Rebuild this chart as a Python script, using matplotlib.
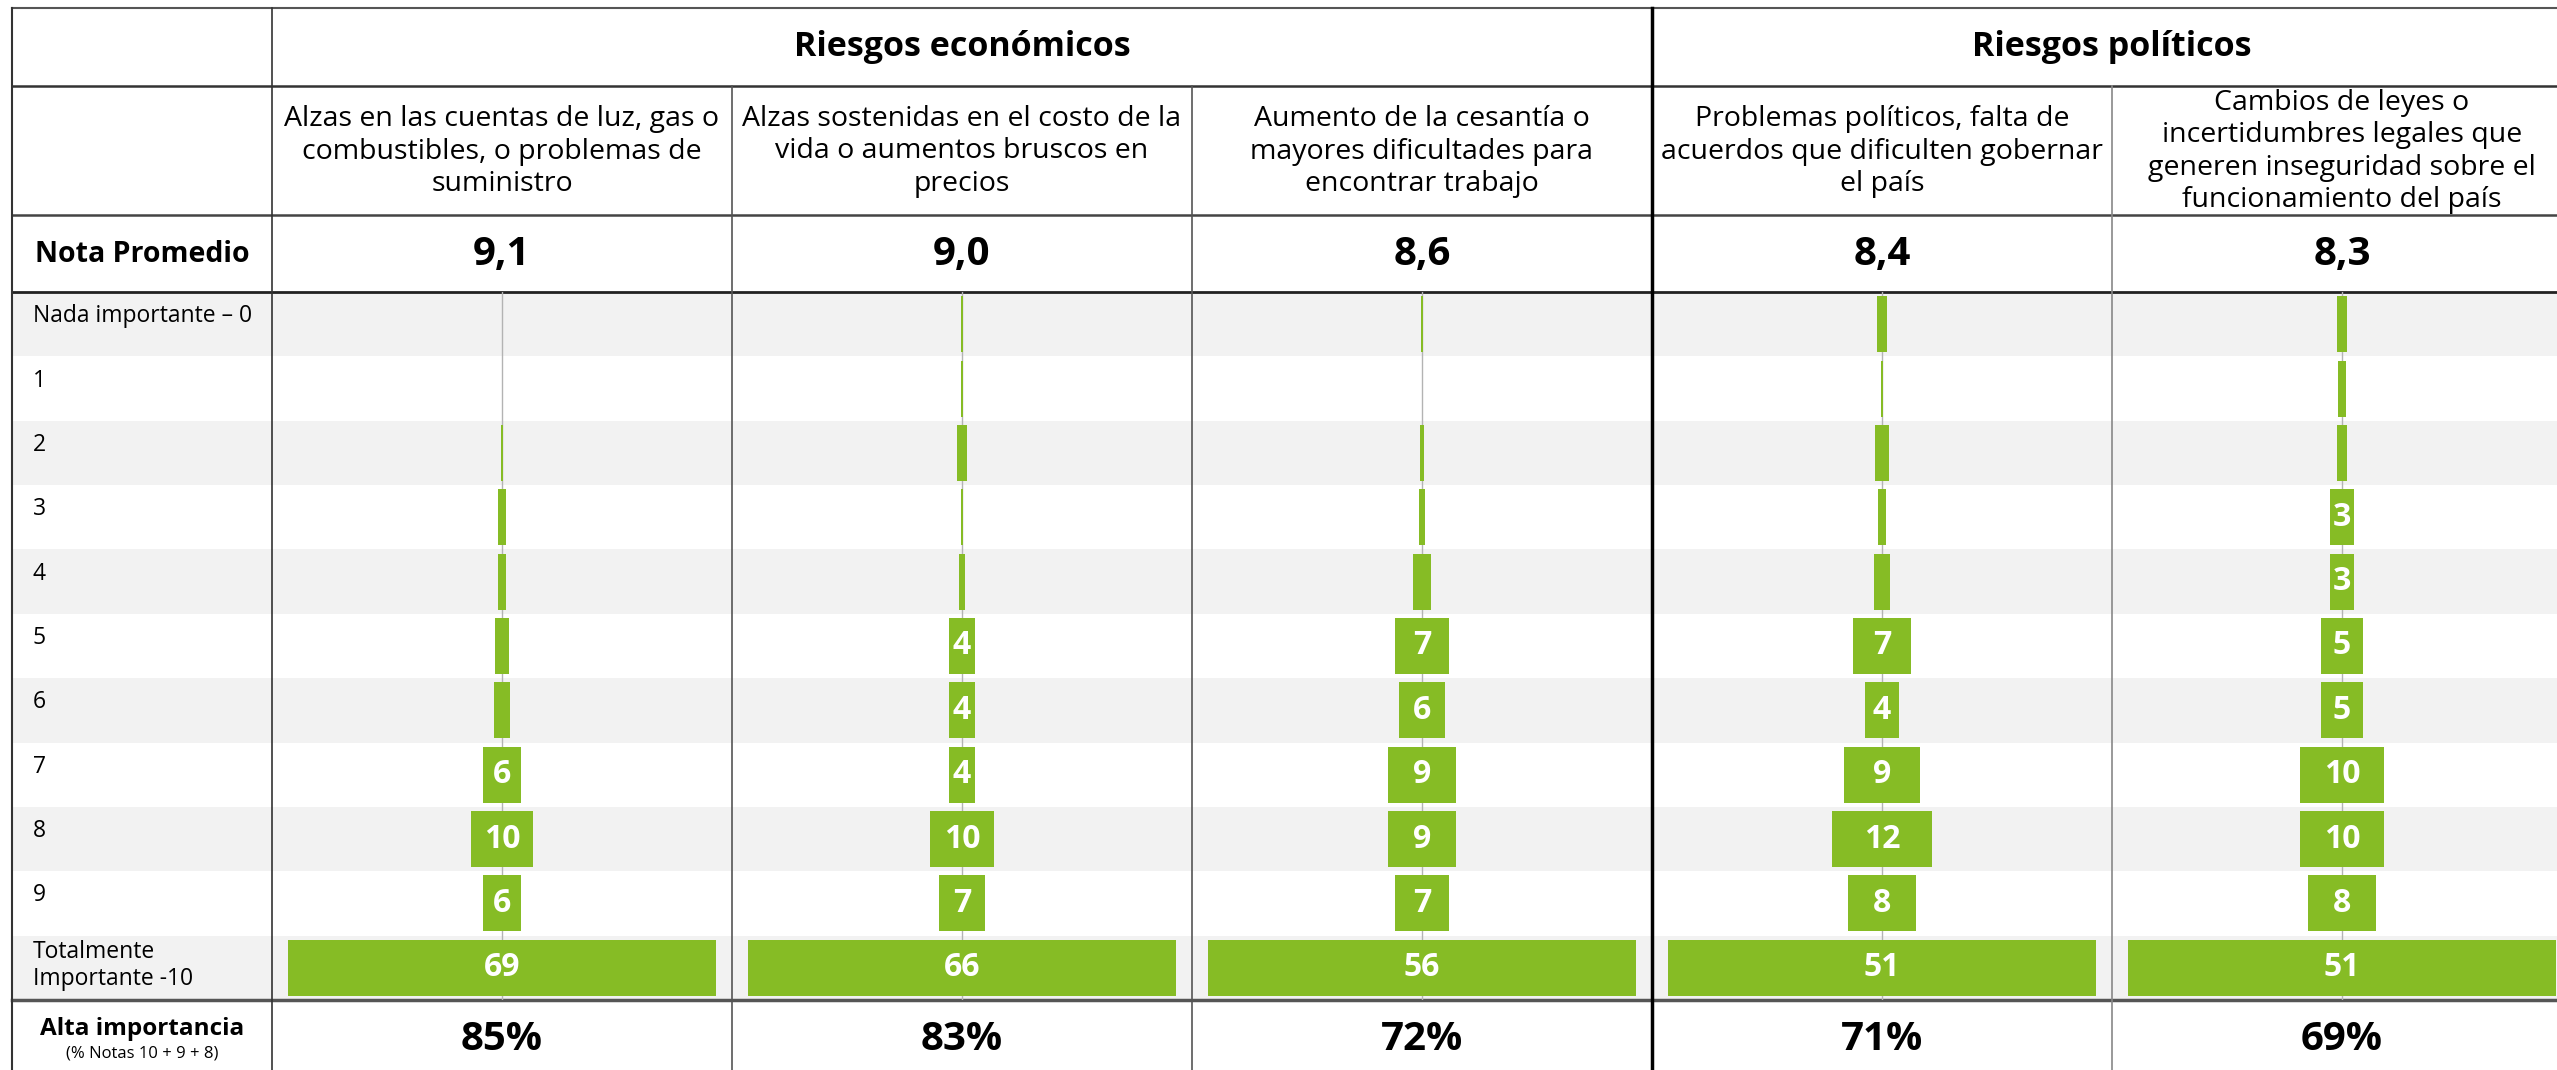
import matplotlib
matplotlib.use("Agg")
import matplotlib.pyplot as plt
from matplotlib.patches import Rectangle
import numpy as np

# ---------------- data ----------------
group_titles = ["Riesgos económicos", "Riesgos políticos"]
group_sizes = [3, 2]

item_titles = [
    "Alzas en las cuentas de luz, gas o\ncombustibles, o problemas de\nsuministro",
    "Alzas sostenidas en el costo de la\nvida o aumentos bruscos en\nprecios",
    "Aumento de la cesantía o\nmayores dificultades para\nencontrar trabajo",
    "Problemas políticos, falta de\nacuerdos que dificulten gobernar\nel país",
    "Cambios de leyes o\nincertidumbres legales que\ngeneren inseguridad sobre el\nfuncionamiento del país",
]

scale_labels = ["Nada importante – 0", "1", "2", "3", "4", "5", "6", "7", "8", "9",
                "Totalmente\nImportante -10"]

nota_promedio = ["9,1", "9,0", "8,6", "8,4", "8,3"]
alta_importancia = ["85%", "83%", "72%", "71%", "69%"]

dist_luz = [0.0, 0.0, 0.2, 1.3, 1.3, 2.4, 2.5, 6, 10, 6, 69]
dist_vida = [0.2, 0.2, 1.5, 0.3, 1.0, 4, 4, 4, 10, 7, 66]
dist_cesantia = [0.2, 0.0, 0.5, 0.8, 2.4, 7, 6, 9, 9, 7, 56]
dist_problemas = [1.1, 0.3, 1.6, 0.9, 1.9, 7, 4, 9, 12, 8, 51]
dist_leyes = [1.3, 0.9, 1.1, 2.8, 2.8, 5, 5, 10, 10, 8, 51]
series = [dist_luz, dist_vida, dist_cesantia, dist_problemas, dist_leyes]

# ---------------- style / layout ----------------
FONT = ["Open Sans", "DejaVu Sans"]
plt.rcParams['font.family'] = FONT
GREEN = "#86bc25"
STRIPE = "#f2f2f2"

W, H = 2557, 1070
DPI = 100

left = 12
label_w = 260
col_w = 460
y_top, y_head, y_sub, y_nota, y_bottom = 8, 86, 215, 292, 1000
n_rows = len(scale_labels)
row_h = (y_bottom - y_nota) / n_rows
n_cols = len(series)
col_left = [left + label_w + i * col_w for i in range(n_cols)]
col_center = [c + col_w / 2 for c in col_left]
bar_full = 428  # pixel width of the widest bar in each column

fig = plt.figure(figsize=(W / DPI, H / DPI), dpi=DPI)
bg = fig.add_axes([0, 0, 1, 1])
bg.set_xlim(0, W)
bg.set_ylim(H, 0)
bg.axis("off")

# striped rows
for i in range(n_rows):
    if i % 2 == 0:
        bg.add_patch(Rectangle((left, y_nota + i * row_h), W - left, row_h,
                               facecolor=STRIPE, lw=0, zorder=0))

# horizontal rules
bg.plot([left, W], [y_top, y_top], color="#555555", lw=1.5, zorder=3)
bg.plot([left, W], [y_head, y_head], color="#333333", lw=1.8, zorder=3)
bg.plot([left, W], [y_sub, y_sub], color="#444444", lw=1.8, zorder=3)
bg.plot([left, W], [y_nota, y_nota], color="#222222", lw=2, zorder=3)
bg.plot([left, W], [y_bottom, y_bottom], color="#555555", lw=2.5, zorder=3)

# vertical rules
bg.plot([left, left], [y_top, H], color="#333333", lw=1.5, zorder=3)
bg.plot([col_left[0], col_left[0]], [y_top, H], color="#333333", lw=1.2, zorder=3)
g_start = 0
for gi, gs in enumerate(group_sizes):
    for k in range(1, gs):
        x = col_left[g_start + k]
        bg.plot([x, x], [y_head, H], color="#555555" if gi == 0 else "#888888",
                lw=1.2, zorder=3)
    g_start += gs
    if g_start < n_cols:
        x = col_left[g_start]
        bg.plot([x, x], [y_top, H], color="black", lw=2.5, zorder=3)

# group titles
g_start = 0
for title, gs in zip(group_titles, group_sizes):
    cx = col_left[g_start] + gs * col_w / 2
    bg.text(cx, 47, title, ha="center", va="center",
            fontsize=24.5, fontweight="bold", color="black")
    g_start += gs

# item titles
for j, t in enumerate(item_titles):
    bg.text(col_center[j], (y_head + y_sub) / 2 + 1, t, ha="center", va="center",
            fontsize=20.5, linespacing=1.2, color="black")

# Nota promedio row
bg.text(left + label_w / 2, 254, "Nota Promedio", ha="center",
        va="center", fontsize=20.5, fontweight="bold")
for j, v in enumerate(nota_promedio):
    bg.text(col_center[j], 254, v, ha="center", va="center",
            fontsize=29, fontweight="bold")

# scale labels
for i, lab in enumerate(scale_labels):
    yc = y_nota + (i + 0.5) * row_h
    off = -8 if "\n" not in lab else -2
    bg.text(33, yc + off, lab, ha="left", va="center",
            fontsize=16.5, linespacing=1.15)

# Alta importancia row
bg.text(left + label_w / 2, 1029, "Alta importancia", ha="center", va="center",
        fontsize=17.5, fontweight="bold")
bg.text(left + label_w / 2, 1054, "(% Notas 10 + 9 + 8)", ha="center", va="center",
        fontsize=12)
for j, v in enumerate(alta_importancia):
    bg.text(col_center[j], 1039, v, ha="center", va="center",
            fontsize=29, fontweight="bold")

# funnel bars per column
for j, vals in enumerate(series):
    vals = np.asarray(vals, dtype=float)
    ax = fig.add_axes([col_left[j] / W, 1 - y_bottom / H, col_w / W,
                       (y_bottom - y_nota) / H])
    ax.patch.set_visible(False)
    ax.axis("off")
    half = vals.max() * col_w / bar_full / 2
    ax.set_xlim(-half, half)
    ax.set_ylim(n_rows - 0.5, -0.5)
    ax.axvline(0, color="#b3b3b3", lw=1, zorder=1)
    y = np.arange(n_rows)
    ax.barh(y, vals, left=-vals / 2, height=0.87, color=GREEN, zorder=2)
    for yi, v in zip(y, vals):
        n = int(round(v))
        if n >= 3:
            ax.text(0, yi, str(n), ha="center", va="center", color="white",
                    fontsize=23, fontweight="bold", zorder=3)

fig.savefig("out.png", dpi=DPI)
